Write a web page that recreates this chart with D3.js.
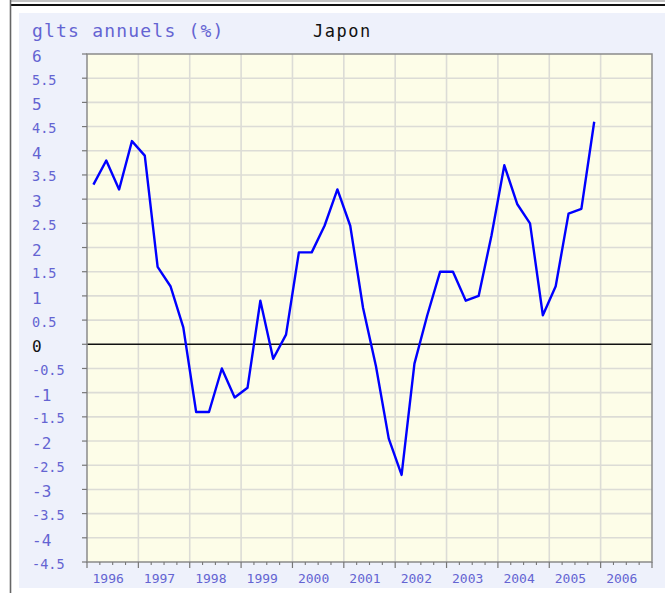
<!DOCTYPE html>
<html>
<head>
<meta charset="utf-8">
<script src="https://cdn.jsdelivr.net/npm/d3@7"></script>
<style>
  html, body { margin: 0; padding: 0; background: #fff; }
  svg { display: block; }
</style>
</head>
<body>
<svg id="chart" width="665" height="593"></svg>
<script>
// quarterly annual growth (%), Japan, 1996 Q1 -> 2005 Q4
const years = [1996, 1997, 1998, 1999, 2000, 2001, 2002, 2003, 2004, 2005, 2006];
const quarterYears = [1996, 1997, 1998, 1999, 2000, 2001, 2002, 2003, 2004, 2005];
const growth = [
  3.3, 3.8, 3.2, 4.2,
  3.9, 1.6, 1.2, 0.35,
  -1.4, -1.4, -0.5, -1.1,
  -0.9, 0.9, -0.3, 0.2,
  1.9, 1.9, 2.45, 3.2,
  2.45, 0.75, -0.45, -1.95,
  -2.7, -0.4, 0.6, 1.5,
  1.5, 0.9, 1.0, 2.25,
  3.7, 2.9, 2.5, 0.6,
  1.2, 2.7, 2.8, 4.6
];
const yTicks = d3.range(-4.5, 6.01, 0.5);

const title = "glts annuels (%)";
const country = "Japon";

const labelColor = "#6464d2";
const mono = "'DejaVu Sans Mono', monospace";

const svg = d3.select("#chart");

// frame
svg.append("line").attr("x1", 10).attr("x2", 665).attr("y1", 1).attr("y2", 1)
  .attr("stroke", "#888").attr("stroke-width", 1.2);
svg.append("line").attr("x1", 10).attr("x2", 665).attr("y1", 5).attr("y2", 5)
  .attr("stroke", "#111").attr("stroke-width", 2);
svg.append("line").attr("x1", 10.5).attr("x2", 10.5).attr("y1", 0).attr("y2", 593)
  .attr("stroke", "#666").attr("stroke-width", 1.6);

// panel
svg.append("rect").attr("x", 19).attr("y", 13).attr("width", 646).attr("height", 575)
  .attr("fill", "#eef1fb");

const x = d3.scaleLinear().domain([1996, 2007]).range([87, 652]);
const y = d3.scaleLinear().domain([-4.5, 6]).range([562, 54]);

// plot background
svg.append("rect")
  .attr("x", x(1996)).attr("y", y(6))
  .attr("width", x(2007) - x(1996)).attr("height", y(-4.5) - y(6))
  .attr("fill", "#fdfde8");

// grid
const grid = svg.append("g").attr("stroke", "#dcdcd6").attr("stroke-width", 1.6);
grid.selectAll(".gx").data(years.slice(1)).join("line")
  .attr("x1", d => x(d)).attr("x2", d => x(d))
  .attr("y1", y(6)).attr("y2", y(-4.5));
grid.selectAll(".gy").data(yTicks.filter(d => d > -4.5 && d < 6 && d !== 0)).join("line")
  .attr("x1", x(1996)).attr("x2", x(2007))
  .attr("y1", d => y(d)).attr("y2", d => y(d));

// zero line
svg.append("line")
  .attr("x1", x(1996)).attr("x2", x(2007))
  .attr("y1", y(0)).attr("y2", y(0))
  .attr("stroke", "#111").attr("stroke-width", 1.5);

// plot border
svg.append("rect")
  .attr("x", x(1996)).attr("y", y(6))
  .attr("width", x(2007) - x(1996)).attr("height", y(-4.5) - y(6))
  .attr("fill", "none").attr("stroke", "#8a8a8a").attr("stroke-width", 1.5);

// y ticks + labels
const yAxis = svg.append("g");
yAxis.selectAll("line").data(yTicks).join("line")
  .attr("x1", x(1996) - 5).attr("x2", x(1996))
  .attr("y1", d => y(d)).attr("y2", d => y(d))
  .attr("stroke", "#777").attr("stroke-width", 1.2);
yAxis.selectAll("text").data(yTicks).join("text")
  .attr("x", 32)
  .attr("y", d => y(d) + (Number.isInteger(d) ? 8 : 6.5))
  .attr("font-family", mono)
  .attr("font-size", d => Number.isInteger(d) ? 16 : 13.5)
  .attr("fill", d => d === 0 ? "#111" : labelColor)
  .text(d => String(d));

// x ticks (major at years, minor at quarters)
const xAxis = svg.append("g");
const minor = d3.range(1996, 2007, 0.25).filter(d => !Number.isInteger(d));
xAxis.selectAll(".minor").data(minor).join("line")
  .attr("x1", d => x(d)).attr("x2", d => x(d))
  .attr("y1", y(-4.5)).attr("y2", y(-4.5) + 3)
  .attr("stroke", "#777").attr("stroke-width", 1.1);
xAxis.selectAll(".major").data(years.concat([2007])).join("line")
  .attr("x1", d => x(d)).attr("x2", d => x(d))
  .attr("y1", y(-4.5)).attr("y2", y(-4.5) + 6)
  .attr("stroke", "#777").attr("stroke-width", 1.2);
xAxis.selectAll("text").data(years).join("text")
  .attr("x", d => x(d) + 5.5)
  .attr("y", 583)
  .attr("font-family", mono)
  .attr("font-size", 13)
  .attr("fill", labelColor)
  .text(d => d);

// line
const points = growth.map((v, i) => ({
  t: quarterYears[Math.floor(i / 4)] + ((i % 4) + 0.5) / 4,
  v
}));
svg.append("path")
  .datum(points)
  .attr("fill", "none")
  .attr("stroke", "#0000ff")
  .attr("stroke-width", 2.4)
  .attr("stroke-linejoin", "round")
  .attr("d", d3.line().x(d => x(d.t)).y(d => y(d.v)));

// titles
svg.append("text")
  .attr("x", 32).attr("y", 37)
  .attr("font-family", mono).attr("font-size", 18)
  .attr("letter-spacing", 1.2)
  .attr("fill", labelColor)
  .text(title);
svg.append("text")
  .attr("x", 313).attr("y", 37)
  .attr("font-family", mono).attr("font-size", 17)
  .attr("letter-spacing", 1.5)
  .attr("fill", "#111")
  .text(country);
</script>
</body>
</html>
